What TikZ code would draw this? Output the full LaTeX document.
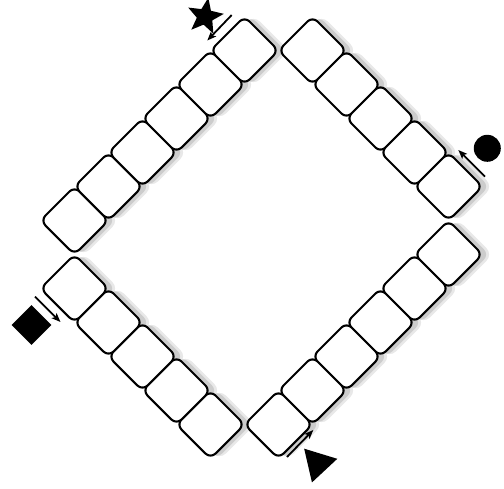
\documentclass[tikz,border=0pt]{standalone}
\usetikzlibrary{shapes.geometric,arrows.meta}
\begin{document}
\begin{tikzpicture}[x=1pt,y=-1pt,
  cell/.style={draw=black, line width=2.1pt, fill=white, rounded corners=7pt,
    rectangle, minimum size=48.1pt, inner sep=0pt, outer sep=0pt, rotate=45},
  shadowsoft/.style={fill=black!9, draw=none, rounded corners=9pt,
    rectangle, minimum size=50pt, inner sep=0pt, rotate=45},
  shadowcore/.style={fill=black!20, draw=none, rounded corners=7pt,
    rectangle, minimum size=48.1pt, inner sep=0pt, rotate=45},
  sym/.style={fill=black, draw=none, inner sep=0pt, outer sep=0pt},
  dirarrow/.style={line width=1.8pt, -{Stealth[length=9pt,width=7pt,inset=2pt]}}
]
\useasboundingbox (0,0) rectangle (504,488);

% shadows
\foreach \k in {0,...,5}{
  \node[shadowsoft] (stl\k) at ({74.5+34*\k+9},{220.5-34*\k}) {};
  \node[shadowsoft] (sbr\k) at ({74.5+34*(11-\k)+9},{220.5+34*(1+\k)}) {};
}
\foreach \k in {0,...,4}{
  \node[shadowsoft] (str\k) at ({74.5+34*(7+\k)+9},{220.5+34*(\k-5)}) {};
  \node[shadowsoft] (sbl\k) at ({74.5+34*(4-\k)+9},{220.5+34*(6-\k)}) {};
}
\foreach \k in {0,...,5}{
  \node[shadowcore] (ctl\k) at ({74.5+34*\k+6.5},{220.5-34*\k}) {};
  \node[shadowcore] (cbr\k) at ({74.5+34*(11-\k)+6.5},{220.5+34*(1+\k)}) {};
}
\foreach \k in {0,...,4}{
  \node[shadowcore] (ctr\k) at ({74.5+34*(7+\k)+6.5},{220.5+34*(\k-5)}) {};
  \node[shadowcore] (cbl\k) at ({74.5+34*(4-\k)+6.5},{220.5+34*(6-\k)}) {};
}

% cells
\foreach \k in {0,...,5}{
  \node[cell] (tl\k) at ({74.5+34*\k},{220.5-34*\k}) {};
  \node[cell] (br\k) at ({74.5+34*(11-\k)},{220.5+34*(1+\k)}) {};
}
\foreach \k in {0,...,4}{
  \node[cell] (tr\k) at ({74.5+34*(7+\k)},{220.5+34*(\k-5)}) {};
  \node[cell] (bl\k) at ({74.5+34*(4-\k)},{220.5+34*(6-\k)}) {};
}

% symbols
\node[sym, star, star points=5, star point ratio=2.3, minimum size=38pt, rotate=-10] (star) at (205,16.5) {};
\node[sym, circle, minimum size=27pt] (dot) at (487.3,148.3) {};
\node[sym, rectangle, minimum size=28pt, rotate=45] (sq) at (31.5,325) {};
\node[sym, regular polygon, regular polygon sides=3, minimum size=40pt, rotate=43] (tri) at (317.8,463.3) {};

% arrows
\coordinate (a1s) at (231.7,15);   \coordinate (a1e) at (207.3,40.5);
\coordinate (a2s) at (485,176.7);  \coordinate (a2e) at (458.3,150);
\coordinate (a3s) at (35,296.7);   \coordinate (a3e) at (60.5,322);
\coordinate (a4s) at (287,457);    \coordinate (a4e) at (313.3,430);
\draw[dirarrow] (a1s) -- (a1e);
\draw[dirarrow] (a2s) -- (a2e);
\draw[dirarrow] (a3s) -- (a3e);
\draw[dirarrow] (a4s) -- (a4e);
\end{tikzpicture}
\end{document}
